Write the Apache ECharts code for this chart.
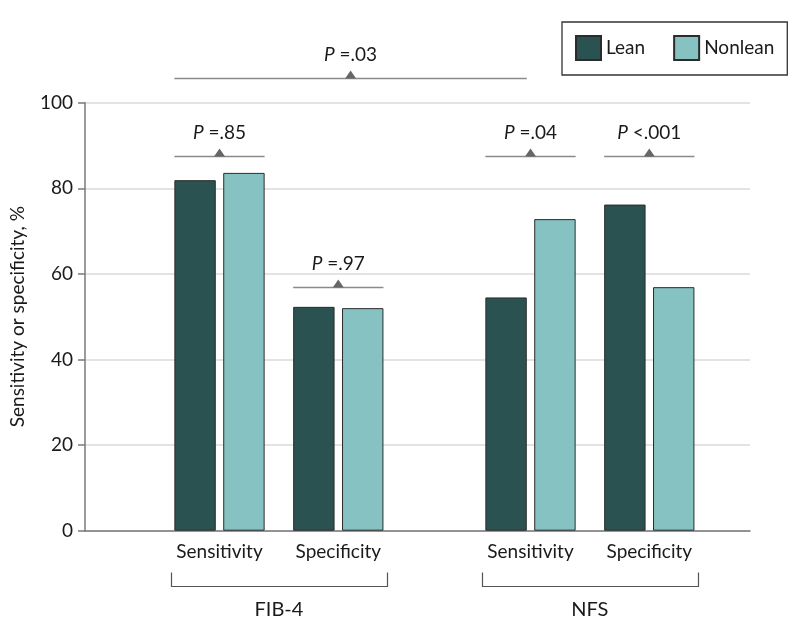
<!DOCTYPE html>
<html>
<head>
<meta charset="utf-8">
<script src="https://cdn.jsdelivr.net/npm/echarts@6/dist/echarts.min.js"></script>
<style>
  html, body { margin: 0; padding: 0; background: #fff; }
  #chart { width: 794px; height: 637px; }
</style>
</head>
<body>
<div id="chart"></div>
<script>
// ---- data ----
const categories = ['Sensitivity', 'Specificity'];
const groups = ['FIB-4', 'NFS'];
const seriesNames = ['Lean', 'Nonlean'];
const leanFIB = [81.9, 52.3];
const nonleanFIB = [83.6, 52.0];
const leanNFS = [54.5, 76.2];
const nonleanNFS = [72.8, 56.9];
const yMin = 0, yMax = 100, yStep = 20;
const yAxisTitle = 'Sensitivity or specificity, %';
// pairwise comparisons (Lean vs Nonlean) in order FIB-4 Sens, FIB-4 Spec, NFS Sens, NFS Spec
const pairP = [' =.85', ' =.97', ' =.04', ' <.001'];
const pairLevel = [87.5, 56.9, 87.5, 87.5];
// overall comparison (FIB-4 vs NFS sensitivity among lean)
const overallP = ' =.03';
const overallLevel = 105.8;

// ---- style ----
const FONT = 'Lato';
const FS = 19;
const TXT = '#1a1a1a';
const LEAN = '#2a5251';
const NONLEAN = '#86c2c1';
const AX = '#7a7a7a';

const chart = echarts.init(document.getElementById('chart'), null, { renderer: 'canvas' });

const gridTop = 102.7, gridBottom = 106.3;
const catW = 237.6;

function barSeries(name, data, idx, color) {
  return {
    type: 'bar', name: name, data: data,
    xAxisIndex: idx, yAxisIndex: idx,
    barWidth: 41.4, barGap: '18%',
    itemStyle: { color: color, borderColor: '#2b2b2b', borderWidth: 1 },
    emphasis: { disabled: true }
  };
}

function groupX(idx) {
  return {
    gridIndex: idx, type: 'category', data: categories,
    axisLine: { show: false }, axisTick: { show: false },
    axisLabel: { fontSize: FS, fontFamily: FONT, color: TXT, margin: 12 },
    name: groups[idx - 1], nameLocation: 'middle', nameGap: 69,
    nameTextStyle: { fontSize: 20, fontFamily: FONT, color: TXT }
  };
}
function hiddenY(idx) {
  return { gridIndex: idx, type: 'value', min: yMin, max: yMax, show: false };
}

chart.setOption({
  animation: false,
  backgroundColor: '#fff',
  textStyle: { fontFamily: FONT },
  legend: {
    data: seriesNames,
    left: 562, top: 22,
    padding: [13, 13, 14, 13],
    icon: 'rect',
    itemWidth: 25, itemHeight: 24, itemGap: 28,
    borderColor: '#333', borderWidth: 1.3,
    textStyle: { fontSize: FS, fontFamily: FONT, color: TXT },
    selectedMode: false
  },
  grid: [
    { left: 84, right: 44, top: gridTop, bottom: gridBottom },
    { left: 160.1, width: catW, top: gridTop, bottom: gridBottom },
    { left: 471.1, width: catW, top: gridTop, bottom: gridBottom }
  ],
  xAxis: [
    { gridIndex: 0, type: 'value', min: 0, max: 1,
      axisLine: { show: true, onZero: false, lineStyle: { color: AX, width: 1.5 } },
      axisTick: { show: false }, axisLabel: { show: false }, splitLine: { show: false } },
    groupX(1), groupX(2)
  ],
  yAxis: [
    { gridIndex: 0, type: 'value', min: yMin, max: yMax, interval: yStep,
      axisLine: { show: true, lineStyle: { color: AX, width: 1.5 } },
      axisTick: { show: true, length: 7, lineStyle: { color: AX, width: 1.5 } },
      axisLabel: { fontSize: FS, fontFamily: FONT, color: TXT, margin: 12 },
      splitLine: { show: true, lineStyle: { color: '#dadada', width: 1.5 } },
      name: yAxisTitle, nameLocation: 'middle', nameGap: 58,
      nameTextStyle: { fontSize: FS, fontFamily: FONT, color: TXT } },
    hiddenY(1), hiddenY(2)
  ],
  series: [
    barSeries('Lean', leanFIB, 1, LEAN),
    barSeries('Nonlean', nonleanFIB, 1, NONLEAN),
    barSeries('Lean', leanNFS, 2, LEAN),
    barSeries('Nonlean', nonleanNFS, 2, NONLEAN)
  ]
});

// ---- annotations computed from library layout ----
function layoutOf(si, di) {
  return chart.getModel().getSeriesByIndex(si).getData().getItemLayout(di);
}
function yPix(v) { return chart.convertToPixel({ yAxisIndex: 0 }, v); }

const graphics = [];
function addComparison(x1, x2, level, ptext) {
  const y = Math.round(yPix(level)) + 0.5;
  const cx = (x1 + x2) / 2;
  graphics.push({ type: 'line', silent: true,
    shape: { x1: x1, y1: y, x2: x2, y2: y },
    style: { stroke: '#8a8a8a', lineWidth: 1.5 } });
  graphics.push({ type: 'polygon', silent: true,
    shape: { points: [[cx - 5.5, y], [cx + 5.5, y], [cx, y - 8]] },
    style: { fill: '#666' } });
  graphics.push({ type: 'text', silent: true,
    style: { text: '{i|P}' + ptext, x: cx, y: y - 24, align: 'center', verticalAlign: 'middle',
      fontSize: FS, fontFamily: FONT, fill: TXT,
      rich: { i: { fontStyle: 'italic', fontSize: FS, fontFamily: FONT, fill: TXT } } } });
}

// pair comparisons
const pairSeries = [[0, 1], [0, 1], [2, 3], [2, 3]];
for (let k = 0; k < 4; k++) {
  const di = k % 2;
  const a = layoutOf(pairSeries[k][0], di);
  const b = layoutOf(pairSeries[k][1], di);
  addComparison(a.x, b.x + b.width, pairLevel[k], pairP[k]);
}
// overall comparison: FIB-4 sensitivity (lean) vs NFS sensitivity (lean)
{
  const a = layoutOf(0, 0);
  const b = layoutOf(2, 0);
  addComparison(a.x, b.x + b.width, overallLevel, overallP);
}

// group brackets
const base = yPix(0);
[[0, 1], [2, 3]].forEach(function (pr) {
  const l = layoutOf(pr[0], 0);
  const r = layoutOf(pr[1], 1);
  const x1 = Math.round(l.x - 3.5) + 0.5;
  const x2 = Math.round(r.x + r.width + 3.5) + 0.5;
  const yt = Math.round(base + 41) + 0.5;
  const yb = Math.round(base + 55.3) + 0.5;
  graphics.push({ type: 'polyline', silent: true,
    shape: { points: [[x1, yt], [x1, yb], [x2, yb], [x2, yt]] },
    style: { stroke: '#555', lineWidth: 1.2, fill: null } });
});

chart.setOption({ graphic: graphics });
</script>
</body>
</html>
